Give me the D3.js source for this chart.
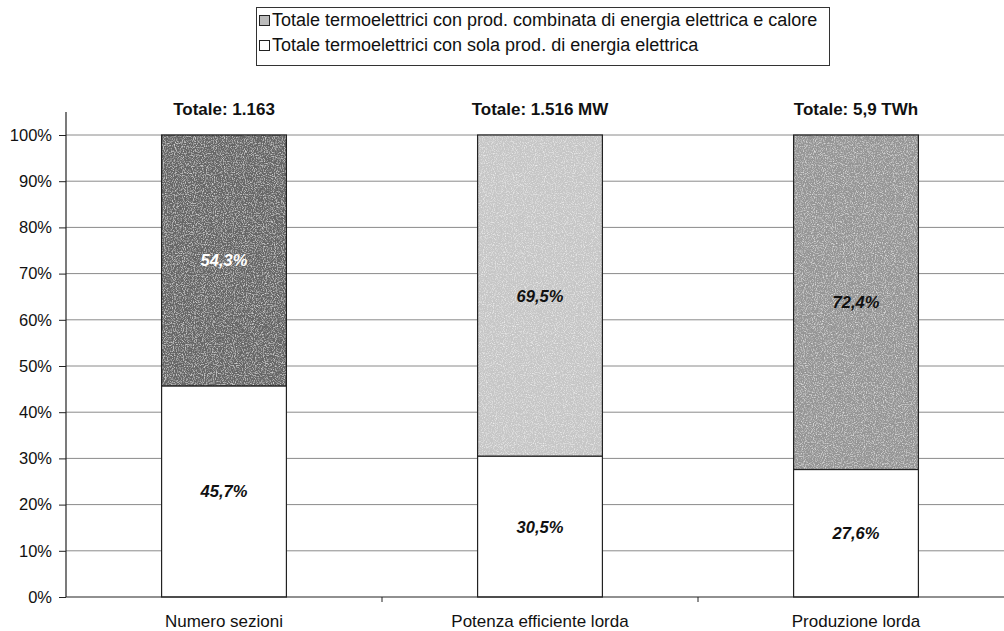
<!DOCTYPE html>
<html lang="it">
<head>
    <meta charset="UTF-8">
    <title>Termoelettrici</title>
    <script src="https://d3js.org/d3.v7.min.js"></script>
    <style>
        body { margin: 0; background: #fff; }
        svg { font-family: "Liberation Sans", Arial, sans-serif; }
        .axis-label { font-size: 16.5px; fill: #111; }
        .val { font-size: 16.5px; font-weight: bold; font-style: italic; }
    </style>
</head>
<body>
    <svg></svg>
    <script>
        const categories = ['Numero sezioni', 'Potenza efficiente lorda', 'Produzione lorda'];
        const totals = ['Totale: 1.163', 'Totale: 1.516 MW', 'Totale: 5,9 TWh'];
        const solaElettrica = [45.7, 30.5, 27.6];
        const combinata = [54.3, 69.5, 72.4];
        const seriesNames = [
            'Totale termoelettrici con prod. combinata di energia elettrica e calore',
            'Totale termoelettrici con sola prod. di energia elettrica'
        ];
        const yTicks = [0, 10, 20, 30, 40, 50, 60, 70, 80, 90, 100];
        // tones of the upper segment differ bar by bar in the scan
        const topFill = ['#666', '#c6c6c6', '#959595'];
        const topLabelColor = ['#fff', '#111', '#111'];

        const W = 1004, H = 631;
        const svg = d3.select('svg').attr('width', W).attr('height', H);

        const x = d3.scaleBand()
            .domain(categories)
            .range([66, 1014])
            .paddingInner(0)
            .paddingOuter(0);
        const barW = x.bandwidth() * 0.395;

        const y = d3.scaleLinear().domain([0, 100]).range([597, 135]);

        const defs = svg.append('defs');
        const f = defs.append('filter').attr('id', 'grain')
            .attr('x', 0).attr('y', 0).attr('width', 1).attr('height', 1);
        f.append('feTurbulence').attr('type', 'fractalNoise')
            .attr('baseFrequency', 0.9).attr('numOctaves', 2).attr('seed', 3).attr('result', 'n');
        f.append('feColorMatrix').attr('in', 'n').attr('type', 'matrix')
            .attr('values', '0 0 0 0 1  0 0 0 0 1  0 0 0 0 1  1.6 0 0 0 -0.75').attr('result', 'w');
        f.append('feComposite').attr('in', 'w').attr('in2', 'SourceGraphic').attr('operator', 'atop');

        // gridlines
        svg.append('g').selectAll('line')
            .data(yTicks.filter(d => d > 0))
            .enter().append('line')
            .attr('x1', 66).attr('x2', W)
            .attr('y1', d => y(d)).attr('y2', d => y(d))
            .attr('stroke', '#8a8a8a')
            .attr('stroke-width', 1);

        // bars
        const g = svg.append('g');
        categories.forEach((c, i) => {
            const bx = x(c) + (x.bandwidth() - barW) / 2;
            g.append('rect')
                .attr('x', bx).attr('y', y(solaElettrica[i]))
                .attr('width', barW).attr('height', y(0) - y(solaElettrica[i]))
                .attr('fill', '#fff').attr('stroke', '#222').attr('stroke-width', 1.2);
            g.append('rect')
                .attr('x', bx).attr('y', y(100))
                .attr('width', barW).attr('height', y(solaElettrica[i]) - y(100))
                .attr('fill', topFill[i])
                .attr('filter', 'url(#grain)');
            g.append('rect')
                .attr('x', bx).attr('y', y(100))
                .attr('width', barW).attr('height', y(solaElettrica[i]) - y(100))
                .attr('fill', 'none').attr('stroke', '#222').attr('stroke-width', 1.2);

            const cx = x(c) + x.bandwidth() / 2;
            g.append('text').attr('class', 'val')
                .attr('x', cx).attr('y', y(solaElettrica[i] / 2) + 6)
                .attr('text-anchor', 'middle').attr('fill', '#111')
                .text(solaElettrica[i].toFixed(1).replace('.', ',') + '%');
            g.append('text').attr('class', 'val')
                .attr('x', cx).attr('y', y(solaElettrica[i] + combinata[i] / 2) + 6)
                .attr('text-anchor', 'middle').attr('fill', topLabelColor[i])
                .text(combinata[i].toFixed(1).replace('.', ',') + '%');
            g.append('text')
                .attr('x', cx).attr('y', 115)
                .attr('text-anchor', 'middle')
                .style('font-size', '17px').style('font-weight', 'bold')
                .attr('fill', '#111')
                .text(totals[i]);
        });

        // y axis
        const yAxis = svg.append('g')
            .attr('transform', 'translate(66,0)')
            .call(d3.axisLeft(y).tickValues(yTicks).tickFormat(d => d + '%').tickSize(7).tickPadding(7));
        yAxis.select('.domain').remove();
        yAxis.selectAll('text').attr('class', 'axis-label');
        yAxis.selectAll('line').attr('stroke', '#222');
        svg.append('line').attr('x1', 66).attr('x2', 66).attr('y1', 112).attr('y2', 597)
            .attr('stroke', '#222').attr('stroke-width', 1.2);

        // x axis
        svg.append('line').attr('x1', 66).attr('x2', W).attr('y1', 597).attr('y2', 597)
            .attr('stroke', '#222').attr('stroke-width', 1.2);
        svg.append('g').selectAll('line')
            .data(categories.slice(1))
            .enter().append('line')
            .attr('x1', d => x(d)).attr('x2', d => x(d))
            .attr('y1', 597).attr('y2', 602)
            .attr('stroke', '#222');
        svg.append('g').selectAll('text')
            .data(categories)
            .enter().append('text')
            .attr('class', 'axis-label')
            .style('font-size', '17px')
            .attr('x', d => x(d) + x.bandwidth() / 2)
            .attr('y', 627)
            .attr('text-anchor', 'middle')
            .text(d => d);

        // legend
        const lg = svg.append('g');
        lg.append('rect').attr('x', 256.5).attr('y', 7.5).attr('width', 573).attr('height', 58)
            .attr('fill', '#fff').attr('stroke', '#333');
        seriesNames.forEach((s, i) => {
            const ly = 15 + i * 25;
            lg.append('rect').attr('x', 259.5).attr('y', ly + 0.5).attr('width', 10).attr('height', 10)
                .attr('fill', i === 0 ? '#bbb' : '#fff').attr('stroke', '#222');
            lg.append('text').attr('x', 272).attr('y', ly + 11)
                .style('font-size', '18px').attr('fill', '#111')
                .text(s);
        });
    </script>
</body>
</html>
